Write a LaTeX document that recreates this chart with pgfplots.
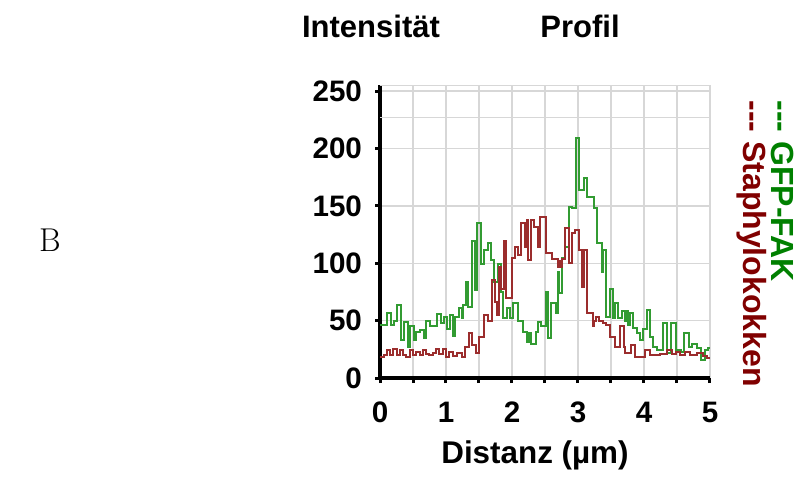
\documentclass[border=0pt]{standalone}
\usepackage{fontspec}
\usepackage{pgfplots}
\usepackage{pgfplotstable}
\pgfplotsset{compat=1.18}
\newfontfamily\arial{Liberation Sans}
\definecolor{gline}{RGB}{50,155,50}
\definecolor{rline}{RGB}{155,45,45}
\definecolor{gtext}{RGB}{0,128,0}
\definecolor{rtext}{RGB}{128,0,0}
\definecolor{gridc}{RGB}{215,215,215}

\pgfplotstableread{
x y
0.00 46
0.10 57
0.17 46
0.21 50
0.25 64
0.32 33
0.36 49
0.42 27
0.45 45
0.51 33
0.55 40
0.60 42
0.66 35
0.70 50
0.76 45
0.80 45
0.86 56
0.92 48
0.97 53
1.01 43
1.06 55
1.10 37
1.14 53
1.19 61
1.24 52
1.26 64
1.30 84
1.34 62
1.39 119
1.44 77
1.47 135
1.53 99
1.58 112
1.63 118
1.68 103
1.73 84
1.79 99
1.83 75
1.86 52
1.92 61
1.97 52
2.02 65
2.09 50
2.17 40
2.22 31
2.26 39
2.29 30
2.36 40
2.39 49
2.44 45
2.51 75
2.55 35
2.59 65
2.66 57
2.69 92
2.71 74
2.76 105
2.81 114
2.86 149
2.91 148
2.97 209
3.02 164
3.09 174
3.14 158
3.24 148
3.29 118
3.36 92
3.38 112
3.43 53
3.48 78
3.53 52
3.56 65
3.61 52
3.66 58
3.71 50
3.73 58
3.76 46
3.79 57
3.84 44
3.89 39
3.94 33
3.99 43
4.04 59
4.09 36
4.14 27
4.20 24
4.29 48
4.35 22
4.41 48
4.48 24
4.56 23
4.61 39
4.68 27
4.73 30
4.80 26
4.86 16
4.92 24
4.97 26
5.00 26
}\gfp

\pgfplotstableread{
x y
0.00 18
0.06 20
0.10 24
0.15 20
0.20 25
0.25 20
0.30 24
0.35 20
0.40 18
0.45 24
0.50 20
0.55 23
0.60 20
0.65 24
0.70 21
0.75 20
0.80 22
0.85 25
0.90 21
0.95 25
1.00 18
1.05 23
1.10 19
1.17 22
1.24 18
1.29 27
1.35 39
1.40 29
1.45 22
1.50 36
1.57 55
1.64 50
1.69 85
1.74 66
1.78 55
1.81 97
1.84 78
1.88 119
1.91 70
2.00 105
2.04 114
2.09 107
2.14 135
2.19 114
2.22 138
2.24 103
2.29 138
2.34 132
2.39 114
2.43 140
2.51 109
2.61 104
2.69 97
2.71 102
2.74 97
2.76 104
2.81 131
2.86 100
2.91 126
2.96 129
3.01 112
3.06 79
3.09 112
3.13 57
3.22 45
3.24 50
3.28 53
3.32 50
3.38 48
3.43 46
3.48 36
3.56 27
3.64 45
3.69 27
3.71 22
3.81 29
3.86 18
4.02 24
4.09 20
4.24 21
4.35 24
4.42 21
4.48 23
4.55 20
4.62 23
4.70 20
4.80 22
4.90 19
4.96 17
5.00 17
}\staph

\begin{document}
\begin{tikzpicture}[x=0.5pt,y=0.5pt]
\useasboundingbox (0,0) rectangle (800,478);
\begin{axis}[
  at={(190pt,50pt)}, anchor=south west,
  scale only axis, width=165pt, height=146.25pt,
  xmin=0, xmax=5, ymin=0, ymax=255,
  axis lines*=left,
  axis line style={black, line width=2pt},
  xtick={0,0.5,...,5},
  xticklabels={0,,1,,2,,3,,4,,5},
  ytick={0,50,100,150,200,250},
  extra y ticks={227,255},
  extra y tick labels={},
  extra y tick style={major tick length=0pt, grid=major},
  grid=major,
  major grid style={gridc, line width=0.75pt},
  tick align=outside,
  major tick length=2.5pt,
  tick style={black, line width=1.5pt},
  ticklabel style={font=\arial\bfseries\fontsize{14.8pt}{16pt}\selectfont},
  /pgf/number format/assume math mode=true,
  xticklabel style={yshift=-6pt},
  yticklabel style={xshift=-3pt},
  xlabel={Distanz (µm)},
  xlabel style={font=\arial\bfseries\fontsize{15.7pt}{17pt}\selectfont, yshift=-2pt, xshift=-5pt},
  clip=false,
]
\addplot[const plot, gline, line width=1pt] table[x=x,y=y] {\gfp};
\addplot[const plot, rline, line width=1pt] table[x=x,y=y] {\staph};
\end{axis}
\node[font=\arial\bfseries\fontsize{15.5pt}{17pt}\selectfont] at (371,452) {Intensität};
\node[font=\arial\bfseries\fontsize{15.5pt}{17pt}\selectfont] at (580,452) {Profil};
\node[font=\fontsize{16.5pt}{18pt}\selectfont] at (50,238) {B};
\node[font=\arial\bfseries\fontsize{16pt}{18pt}\selectfont, text=gtext, rotate=-90, anchor=west, inner sep=0pt] at (783,378) {-{}-{}- GFP-FAK};
\node[font=\arial\bfseries\fontsize{16pt}{18pt}\selectfont, text=rtext, rotate=-90, anchor=west, inner sep=0pt] at (752,378) {-{}-{}- Staphylokokken};
\end{tikzpicture}
\end{document}
